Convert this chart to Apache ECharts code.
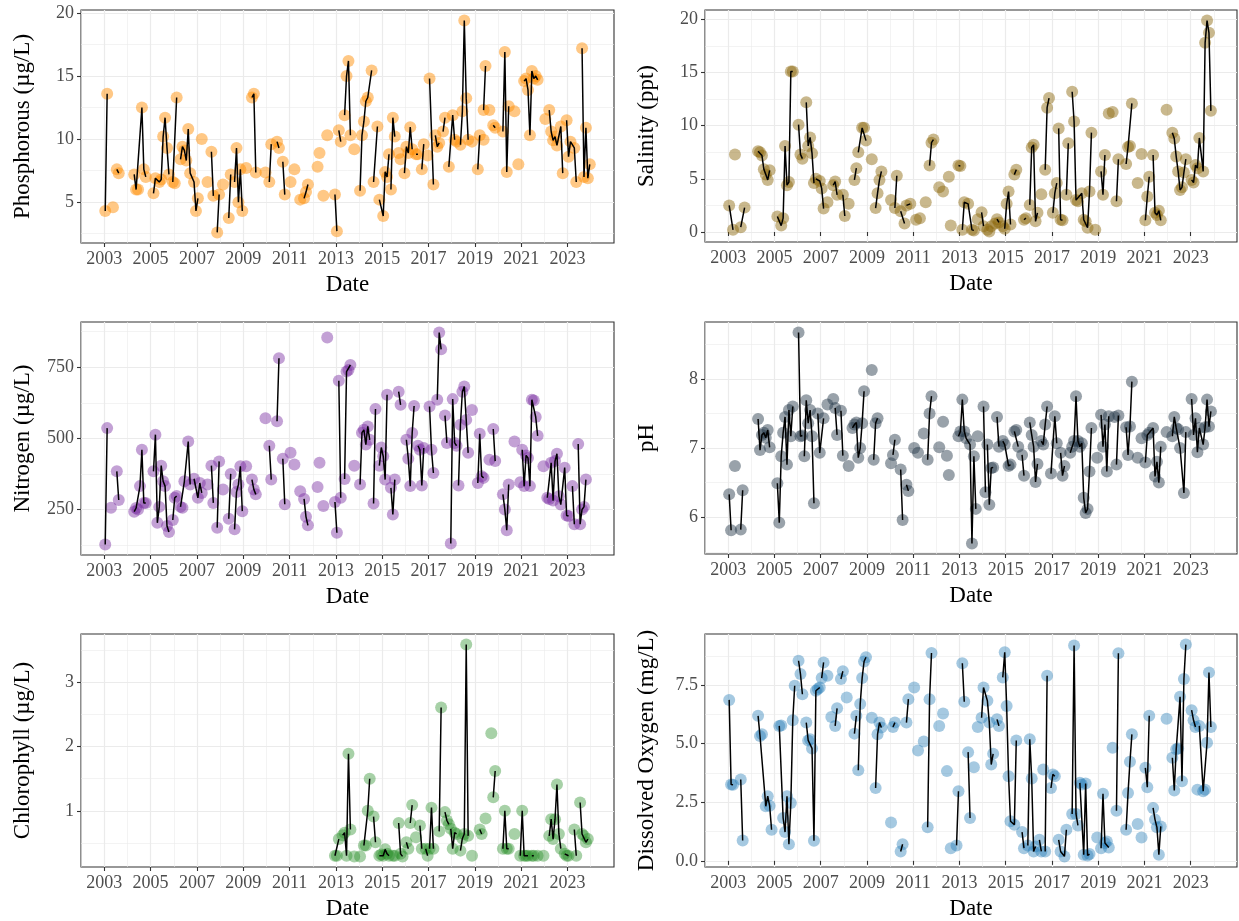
<!DOCTYPE html>
<html>
<head>
<meta charset="utf-8">
<script src="https://cdn.jsdelivr.net/npm/echarts@6/dist/echarts.min.js"></script>
<style>
  html, body { margin: 0; background: #fff; }
  #chart { width: 1239px; height: 921px; }
</style>
</head>
<body>
<div id="chart"></div>
<script>
// each panel: list of runs of consecutive samples [month, value]; lines only join points inside a run
var phosphorus = [
  [['2003-01',4.3],['2003-02',13.6]], [['2003-05',4.6]], [['2003-07',7.6],['2003-08',7.3]],
  [['2004-04',7.2],['2004-05',6.0],['2004-06',6.0],['2004-08',12.5],['2004-09',7.6],['2004-10',7.0]],
  [['2005-02',5.7],['2005-03',6.9],['2005-05',6.6],['2005-06',6.8],['2005-07',10.2],['2005-08',11.7],['2005-09',9.3],['2005-10',7.2]],
  [['2005-12',6.6],['2006-01',6.5],['2006-02',13.3]],
  [['2006-04',8.4],['2006-05',9.4],['2006-06',9.1],['2006-07',8.3],['2006-08',10.8],['2006-09',7.3],['2006-11',6.6],['2006-12',4.3],['2007-01',5.3]],
  [['2007-03',10.0]], [['2007-06',6.6]], [['2007-08',9.0],['2007-09',5.5]], [['2007-11',2.6],['2007-12',5.6]],
  [['2008-02',6.4]], [['2008-05',3.75],['2008-06',7.2]],
  [['2008-08',6.6],['2008-09',9.3],['2008-10',5.0],['2008-11',7.6],['2008-12',4.3]],
  [['2009-02',7.7]], [['2009-05',13.3],['2009-06',13.6],['2009-07',7.35]], [['2009-12',7.35]],
  [['2010-02',6.6],['2010-03',9.6]], [['2010-06',9.8],['2010-07',9.3]], [['2010-09',8.2],['2010-10',5.6]],
  [['2011-01',6.6]], [['2011-03',7.6]], [['2011-06',5.2]], [['2011-08',5.3],['2011-09',5.8],['2011-10',6.4]],
  [['2012-03',7.8]], [['2012-04',8.9]], [['2012-06',5.5]], [['2012-08',10.3]], [['2012-12',5.6],['2013-01',2.7]],
  [['2013-02',10.7],['2013-03',9.8]], [['2013-05',11.9],['2013-06',15.0],['2013-07',16.2],['2013-08',10.3]],
  [['2013-10',9.2]], [['2014-01',5.9],['2014-02',10.3],['2014-03',11.4],['2014-04',13.0],['2014-05',13.3],['2014-07',15.45]],
  [['2014-08',6.6],['2014-10',11.0]],
  [['2014-11',5.2],['2015-01',3.9],['2015-02',7.4],['2015-03',7.0],['2015-04',8.8]],
  [['2015-05',6.0],['2015-06',11.7],['2015-07',10.2]], [['2015-09',8.9]], [['2015-10',8.4]],
  [['2015-12',7.3],['2016-01',9.4],['2016-02',8.9],['2016-03',10.95],['2016-04',9.2]],
  [['2016-06',8.8],['2016-07',8.8]], [['2016-09',7.6],['2016-10',9.6]], [['2016-12',8.7]],
  [['2017-01',14.8],['2017-03',6.4]], [['2017-04',10.3],['2017-05',9.4],['2017-06',9.7]], [['2017-08',10.6],['2017-09',11.7]],
  [['2017-11',7.8],['2018-01',11.9],['2018-02',9.95]], [['2018-03',9.8]],
  [['2018-05',9.55],['2018-06',12.2],['2018-07',19.4],['2018-08',13.25],['2018-09',9.95]], [['2018-11',9.8]],
  [['2019-02',7.6],['2019-03',10.3]], [['2019-05',9.95]], [['2019-05',12.3],['2019-06',15.8]], [['2019-08',12.3]],
  [['2019-10',11.1],['2019-11',10.9]], [['2020-03',10.6],['2020-04',16.9],['2020-05',7.4],['2020-06',12.6]],
  [['2020-09',12.2]], [['2020-11',8.0]],
  [['2021-02',14.6],['2021-03',14.8],['2021-04',13.9],['2021-05',10.3],['2021-06',15.4],['2021-07',14.8],['2021-08',15.0],['2021-09',14.7]],
  [['2022-01',11.6]],
  [['2022-03',12.3],['2022-04',10.6],['2022-05',9.9],['2022-06',10.2],['2022-07',9.5],['2022-09',11.0],['2022-10',7.3]],
  [['2022-12',11.5],['2023-01',8.6],['2023-02',9.8],['2023-04',9.3],['2023-05',6.6]],
  [['2023-08',17.2],['2023-09',7.0],['2023-10',10.9],['2023-11',6.9],['2023-12',8.0]]
];

var salinity = [
  [['2003-01',2.5],['2003-03',0.2]], [['2003-04',7.3]], [['2003-07',0.45],['2003-09',2.3]],
  [['2004-04',7.6],['2004-05',7.5],['2004-06',7.2],['2004-07',5.9],['2004-08',5.4],['2004-09',4.9],['2004-10',5.8]],
  [['2005-02',1.45],['2005-04',0.6],['2005-05',1.3],['2005-06',8.1],['2005-07',4.4],['2005-08',4.7],['2005-09',15.1],['2005-10',15.1]],
  [['2006-01',10.1],['2006-02',7.3],['2006-03',6.9]],
  [['2006-05',12.2],['2006-06',8.1],['2006-07',8.9],['2006-08',7.4],['2006-09',4.6]],
  [['2006-10',5.0],['2006-12',4.8],['2007-01',4.1],['2007-02',2.2]], [['2007-04',2.8]],
  [['2007-07',4.4],['2007-08',4.75],['2007-09',3.5]], [['2007-12',3.5],['2008-01',1.5]], [['2008-03',2.65]],
  [['2008-06',4.9],['2008-07',6.0]], [['2008-08',7.5],['2008-10',9.8],['2008-11',9.8],['2008-12',8.6]],
  [['2009-03',6.85]], [['2009-05',2.25],['2009-06',3.65],['2009-07',4.9],['2009-08',5.7]],
  [['2010-01',3.0]], [['2010-03',2.25],['2010-04',5.3]], [['2010-06',1.95],['2010-08',0.8]], [['2010-09',2.5],['2010-11',2.65]],
  [['2011-02',1.15]], [['2011-04',1.3]], [['2011-07',2.8]], [['2011-09',6.25],['2011-10',8.4],['2011-11',8.7]],
  [['2012-02',4.2]], [['2012-04',3.8]], [['2012-07',5.2]], [['2012-08',0.6]], [['2012-12',6.25],['2013-01',6.2]],
  [['2013-02',0.2],['2013-03',2.8],['2013-05',2.65],['2013-07',0.2],['2013-08',0.15]],
  [['2013-10',1.2]], [['2013-12',1.85],['2014-01',0.55]], [['2014-03',0.2]], [['2014-04',0.05]], [['2014-05',0.55]],
  [['2014-07',0.8]], [['2014-08',1.2],['2014-09',0.9]], [['2014-11',0.55]],
  [['2014-12',0.3],['2015-01',2.65],['2015-02',3.8],['2015-03',0.7]], [['2015-05',5.4],['2015-06',5.85]],
  [['2015-10',1.15],['2015-11',1.3]], [['2016-01',2.55],['2016-02',7.95],['2016-03',8.2],['2016-04',1.0],['2016-05',1.8]],
  [['2016-07',3.55]], [['2016-09',5.85],['2016-10',11.7],['2016-11',12.6]], [['2017-01',1.8],['2017-02',3.65],['2017-03',4.6]],
  [['2017-04',9.75],['2017-05',1.15],['2017-06',1.1]], [['2017-08',3.5],['2017-09',8.35]],
  [['2017-11',13.2],['2017-12',10.4],['2018-01',3.0],['2018-02',2.9],['2018-04',3.65],['2018-05',1.15],['2018-06',1.0],['2018-07',0.4],['2018-08',3.8],['2018-09',9.35]],
  [['2018-11',0.2]], [['2019-02',5.7],['2019-03',3.5],['2019-04',7.25]], [['2019-06',11.15]], [['2019-08',11.3]],
  [['2019-10',2.9],['2019-11',6.85]], [['2020-03',6.4],['2020-04',8.0],['2020-05',8.1],['2020-06',12.1]],
  [['2020-09',4.6]], [['2020-11',7.35]], [['2021-01',1.1],['2021-02',3.35],['2021-03',5.2]],
  [['2021-05',7.25],['2021-06',1.8],['2021-07',1.6],['2021-08',2.0],['2021-09',1.1]], [['2021-12',11.5]],
  [['2022-03',9.35],['2022-04',8.8],['2022-05',7.1],['2022-06',5.7],['2022-07',3.95],['2022-08',4.2],['2022-09',5.6],['2022-10',6.85]],
  [['2023-01',4.9],['2023-02',4.65],['2023-03',6.3],['2023-04',6.0],['2023-05',8.85],['2023-07',5.7],['2023-08',17.8],['2023-09',19.9],['2023-10',18.75],['2023-11',11.4]]
];

var nitrogen = [
  [['2003-01',127],['2003-02',536]], [['2003-04',256]], [['2003-07',384],['2003-08',283]],
  [['2004-04',242],['2004-05',255],['2004-06',250],['2004-07',332],['2004-08',460],['2004-09',273],['2004-10',273]],
  [['2005-02',384],['2005-03',513],['2005-04',203],['2005-05',259],['2005-06',404],['2005-07',349],['2005-08',332],['2005-09',192],['2005-10',171]],
  [['2005-12',213],['2006-01',291],['2006-02',297]], [['2006-04',259],['2006-05',256],['2006-06',349],['2006-08',489],['2006-09',338]],
  [['2006-11',358],['2007-01',291],['2007-02',343],['2007-03',308]], [['2007-06',338]], [['2007-08',404],['2007-09',273]],
  [['2007-11',186],['2007-12',419]], [['2008-02',320]], [['2008-05',217],['2008-06',375]],
  [['2008-08',180],['2008-09',311],['2008-10',338],['2008-11',402],['2008-12',244]], [['2009-02',402]],
  [['2009-05',355],['2009-06',320],['2009-07',303]], [['2009-12',571]], [['2010-02',474],['2010-03',355]],
  [['2010-06',560],['2010-07',782]], [['2010-09',428],['2010-10',268]], [['2011-01',449]], [['2011-03',408]],
  [['2011-06',314]], [['2011-08',287],['2011-09',224],['2011-10',194]], [['2012-03',329]], [['2012-04',414]],
  [['2012-06',262]], [['2012-08',855]], [['2012-12',276],['2013-01',168]], [['2013-02',703],['2013-03',291]],
  [['2013-05',357],['2013-06',735],['2013-07',740],['2013-08',758]], [['2013-10',404]],
  [['2014-01',338],['2014-02',520],['2014-03',530],['2014-04',478],['2014-05',542],['2014-06',495]],
  [['2014-08',271],['2014-09',603]], [['2014-11',404],['2014-12',468],['2015-01',437],['2015-02',355],['2015-03',653]],
  [['2015-05',326],['2015-06',232],['2015-07',355]], [['2015-09',664],['2015-10',618]],
  [['2016-01',495],['2016-02',428],['2016-03',332],['2016-04',519],['2016-05',614]],
  [['2016-07',474],['2016-08',460],['2016-09',334],['2016-10',466]], [['2017-01',612],['2017-02',460],['2017-03',378]],
  [['2017-05',636],['2017-06',872],['2017-07',813]], [['2017-09',580],['2017-10',484]],
  [['2017-12',130],['2018-01',638],['2018-02',484],['2018-03',474]],
  [['2018-04',334],['2018-05',548],['2018-06',664],['2018-07',682],['2018-08',565],['2018-09',449]], [['2018-11',600]],
  [['2019-02',343],['2019-03',516],['2019-04',367],['2019-05',361]], [['2019-08',425]], [['2019-10',533],['2019-11',420]],
  [['2020-03',303],['2020-04',250],['2020-05',177],['2020-06',338]], [['2020-09',489]], [['2020-12',346]],
  [['2021-01',460],['2021-02',332],['2021-03',440],['2021-04',431],['2021-05',332],['2021-06',636],['2021-07',633],['2021-08',575],['2021-09',509]],
  [['2021-12',402]],
  [['2022-02',291],['2022-03',287],['2022-04',414],['2022-05',281],['2022-06',420],['2022-07',446],['2022-08',296],['2022-09',267],['2022-11',397],['2022-12',229],['2023-01',227]],
  [['2023-03',332],['2023-04',198]], [['2023-06',480],['2023-07',198],['2023-08',250],['2023-09',259],['2023-10',355]]
];

var ph = [
  [['2003-01',6.33],['2003-02',5.81]], [['2003-04',6.74]], [['2003-07',5.82],['2003-08',6.39]],
  [['2004-04',7.42],['2004-05',6.97],['2004-06',7.19],['2004-07',7.22],['2004-08',7.15],['2004-09',7.26],['2004-10',7.01]],
  [['2005-02',6.49],['2005-03',5.92],['2005-04',6.88],['2005-05',7.22],['2005-06',7.45],['2005-07',6.76],['2005-08',7.55],['2005-09',7.17],['2005-10',7.6]],
  [['2006-01',8.67],['2006-02',7.17],['2006-03',7.18]],
  [['2006-04',6.88],['2006-05',7.69],['2006-06',7.36],['2006-07',7.55],['2006-08',7.17],['2006-09',6.2]],
  [['2006-11',7.5],['2006-12',6.93],['2007-02',7.43]], [['2007-04',7.63]], [['2007-07',7.71]],
  [['2007-08',7.58],['2007-09',7.19]], [['2007-11',7.54],['2007-12',6.89]], [['2008-03',6.74]],
  [['2008-05',7.29],['2008-06',7.34],['2008-07',7.37],['2008-08',6.86],['2008-09',7.0],['2008-10',7.36],['2008-11',7.82]],
  [['2009-03',8.13]], [['2009-04',6.83],['2009-05',7.36],['2009-06',7.43]], [['2010-01',6.78]],
  [['2010-02',6.9],['2010-03',7.12]], [['2010-06',6.69],['2010-07',5.96]], [['2010-09',6.47],['2010-10',6.38]],
  [['2011-01',7.0]], [['2011-03',6.93]], [['2011-06',7.21]], [['2011-08',6.83],['2011-09',7.5],['2011-10',7.75]],
  [['2012-02',7.01]], [['2012-04',7.38]], [['2012-06',6.89]], [['2012-07',6.61]],
  [['2012-12',7.17],['2013-01',7.24],['2013-02',7.7],['2013-03',7.24],['2013-04',7.14],['2013-06',7.05],['2013-07',5.62],['2013-08',6.88],['2013-09',6.12]],
  [['2013-10',7.17]], [['2014-01',7.6],['2014-02',6.36]], [['2014-03',7.05],['2014-04',6.18],['2014-05',6.71],['2014-06',6.72]],
  [['2014-08',7.45],['2014-09',7.02]], [['2014-11',7.1],['2014-12',7.05],['2015-02',6.74],['2015-03',6.76]],
  [['2015-05',7.24],['2015-06',7.26],['2015-07',7.02]], [['2015-09',6.9],['2015-10',6.6]],
  [['2016-01',7.37],['2016-02',7.19],['2016-03',7.02],['2016-04',6.51],['2016-05',6.77]],
  [['2016-07',7.1],['2016-08',7.05],['2016-09',7.34],['2016-10',7.6]], [['2016-12',6.63],['2017-02',7.46],['2017-03',7.07]],
  [['2017-05',6.93],['2017-06',6.6],['2017-07',6.74]],
  [['2017-10',6.93],['2017-11',7.02],['2017-12',7.1],['2018-01',7.75],['2018-02',7.1],['2018-03',7.02],['2018-04',7.07],['2018-05',6.28],['2018-06',6.06],['2018-07',6.12],['2018-08',6.66],['2018-09',7.29]],
  [['2018-12',6.86]], [['2019-02',7.48],['2019-03',7.02],['2019-04',7.34],['2019-05',6.66],['2019-06',7.46]],
  [['2019-09',7.45]], [['2019-10',6.76],['2019-11',7.47]], [['2020-03',7.3],['2020-04',6.9],['2020-05',7.31],['2020-06',7.96]],
  [['2020-09',6.86]], [['2020-11',7.14]],
  [['2021-01',6.79],['2021-02',7.19],['2021-03',7.22],['2021-05',7.29],['2021-06',6.59],['2021-07',6.8],['2021-08',6.5],['2021-09',7.02]],
  [['2021-12',7.23]], [['2022-03',7.17],['2022-04',7.45],['2022-05',7.29],['2022-06',7.27],['2022-07',7.0],['2022-09',6.35],['2022-10',7.23]],
  [['2023-01',7.71],['2023-02',7.19],['2023-03',7.43],['2023-04',6.94],['2023-05',7.29],['2023-07',7.05],['2023-08',7.3],['2023-09',7.7],['2023-10',7.31],['2023-11',7.53]]
];

var chlorophyll = [
  [['2012-12',0.3],['2013-01',0.3],['2013-02',0.56]], [['2013-04',0.62],['2013-05',0.66],['2013-06',0.3],['2013-07',1.89],['2013-08',0.71]],
  [['2013-10',0.29]], [['2014-01',0.29]], [['2014-03',0.46],['2014-04',0.46],['2014-05',1.0],['2014-06',1.5]],
  [['2014-08',0.91],['2014-09',0.51]], [['2014-11',0.3],['2014-12',0.32],['2015-01',0.3],['2015-02',0.4],['2015-03',0.33],['2015-04',0.3]],
  [['2015-06',0.3]], [['2015-07',0.3]], [['2015-09',0.81],['2015-10',0.33],['2015-11',0.29]],
  [['2016-01',0.51],['2016-02',0.41]], [['2016-03',0.81],['2016-04',1.09]], [['2016-06',0.59]], [['2016-08',0.77],['2016-09',0.41]],
  [['2016-11',0.41],['2016-12',0.3]], [['2017-01',0.41],['2017-02',1.05],['2017-03',0.41]], [['2017-06',0.68],['2017-07',2.61]],
  [['2017-09',0.98],['2017-10',0.85],['2017-11',0.79]], [['2017-12',0.72],['2018-01',0.41],['2018-02',0.66],['2018-03',0.64]],
  [['2018-05',0.38],['2018-06',0.57],['2018-07',0.64],['2018-08',3.59],['2018-09',0.61]], [['2018-11',0.3]],
  [['2019-03',0.71],['2019-04',0.64]], [['2019-06',0.88]], [['2019-09',2.21]], [['2019-10',1.21],['2019-11',1.62]],
  [['2020-03',0.41],['2020-04',1.0],['2020-05',0.41],['2020-06',0.41]], [['2020-09',0.64]],
  [['2020-12',0.3],['2021-01',1.0],['2021-02',0.3],['2021-03',0.3],['2021-04',0.3]], [['2021-06',0.3],['2021-07',0.3]],
  [['2021-09',0.3]], [['2021-12',0.3]],
  [['2022-03',0.61],['2022-04',0.87],['2022-05',0.56],['2022-06',0.87],['2022-07',1.41],['2022-08',0.64],['2022-09',0.41]],
  [['2022-11',0.33],['2022-12',0.3],['2023-01',0.3]], [['2023-04',0.71],['2023-05',0.3]],
  [['2023-07',1.13],['2023-08',0.64],['2023-09',0.61],['2023-10',0.51],['2023-11',0.56]]
];

var oxygen = [
  [['2003-01',6.87],['2003-02',3.26],['2003-03',3.25]], [['2003-07',3.47],['2003-08',0.87]],
  [['2004-04',6.19],['2004-05',5.33],['2004-06',5.4],['2004-08',2.33],['2004-09',2.76],['2004-10',2.35],['2004-11',1.33]],
  [['2005-03',5.76],['2005-04',5.78],['2005-05',1.83],['2005-06',1.23],['2005-07',2.76],['2005-08',0.71],['2005-09',2.47],['2005-10',6.0],['2005-11',7.47]],
  [['2006-01',8.54],['2006-02',7.97],['2006-03',7.11]],
  [['2006-05',5.9],['2006-06',5.14],['2006-07',5.19],['2006-08',4.8],['2006-09',0.86],['2006-10',7.26],['2006-11',7.33],['2006-12',7.4]],
  [['2007-01',7.8],['2007-02',8.47]], [['2007-04',7.9]], [['2007-06',6.14]], [['2007-08',5.76],['2007-09',6.51]],
  [['2007-11',7.76],['2007-12',8.09]], [['2008-02',6.97]], [['2008-06',5.43],['2008-07',6.19]],
  [['2008-08',3.87],['2008-09',6.69],['2008-10',7.8],['2008-11',8.51],['2008-12',8.69]], [['2009-03',6.11]],
  [['2009-05',3.11],['2009-06',5.4],['2009-07',5.9],['2009-08',5.69]], [['2010-01',1.64]], [['2010-02',5.71],['2010-03',5.9]],
  [['2010-06',0.4],['2010-07',0.71]], [['2010-09',5.9],['2010-10',6.9]], [['2011-01',7.4]], [['2011-03',4.71]], [['2011-06',5.09]],
  [['2011-08',1.43],['2011-09',6.9],['2011-10',8.87]], [['2012-02',5.76]], [['2012-04',6.29]], [['2012-06',3.83]], [['2012-08',0.54]],
  [['2012-11',0.66],['2012-12',2.97]], [['2013-02',8.43],['2013-03',6.79]], [['2013-05',4.64],['2013-06',1.83]], [['2013-08',4.0]],
  [['2013-10',5.71]], [['2013-12',6.11],['2014-01',7.4],['2014-03',6.83],['2014-04',5.9],['2014-05',4.11],['2014-06',4.57]],
  [['2014-08',6.04],['2014-09',5.76]], [['2014-11',7.83],['2014-12',8.9],['2015-01',6.61],['2015-02',3.61],['2015-03',1.69],['2015-05',1.54],['2015-06',5.14]],
  [['2015-09',1.23],['2015-10',0.54]], [['2015-12',0.66],['2016-01',5.19],['2016-02',3.51],['2016-03',0.4],['2016-04',0.61]],
  [['2016-06',0.9],['2016-07',0.4]], [['2016-08',3.9]], [['2016-09',0.4],['2016-10',7.9]],
  [['2016-12',3.11],['2017-01',3.69],['2017-02',3.61]], [['2017-04',0.9],['2017-05',0.4],['2017-07',0.19],['2017-08',1.33]],
  [['2017-11',2.0],['2017-12',9.19],['2018-01',2.0],['2018-02',1.51]],
  [['2018-03',3.33],['2018-04',3.26],['2018-05',0.26],['2018-06',3.3],['2018-07',0.23],['2018-08',0.29]], [['2018-12',1.0]],
  [['2019-02',0.54],['2019-03',2.86],['2019-04',0.76],['2019-05',0.83],['2019-06',0.57]], [['2019-08',4.83]],
  [['2019-10',2.14],['2019-11',8.86]], [['2020-03',1.33],['2020-04',2.9],['2020-05',4.23],['2020-06',5.4]],
  [['2020-09',1.57]], [['2020-11',1.0]], [['2021-01',3.97],['2021-02',3.14],['2021-03',6.19]],
  [['2021-05',2.26],['2021-06',1.76],['2021-07',1.43],['2021-08',0.26],['2021-09',1.47]], [['2021-12',6.07]],
  [['2022-03',4.4],['2022-04',3.0],['2022-05',4.76],['2022-06',4.8],['2022-07',7.0],['2022-08',3.4],['2022-09',7.76],['2022-10',9.23]],
  [['2023-01',6.43],['2023-02',6.0],['2023-03',5.71]], [['2023-04',3.04]],
  [['2023-05',5.76],['2023-07',2.97],['2023-08',3.04],['2023-09',5.04],['2023-10',8.04],['2023-11',5.71]]
];

var yearTicks = [2003, 2005, 2007, 2009, 2011, 2013, 2015, 2017, 2019, 2021, 2023];
var yearMinor = [2002, 2004, 2006, 2008, 2010, 2012, 2014, 2016, 2018, 2020, 2022, 2024];

var panels = [
  { runs: phosphorus, name: 'Phosphorous (µg/L)', color: 'rgba(255,140,0,0.6)', major: [5, 10, 15, 20], minor: [2.5, 7.5, 12.5, 17.5], digits: 0 },
  { runs: salinity, name: 'Salinity (ppt)', color: 'rgba(139,101,8,0.58)', major: [0, 5, 10, 15, 20], minor: [2.5, 7.5, 12.5, 17.5], digits: 0 },
  { runs: nitrogen, name: 'Nitrogen (µg/L)', color: 'rgba(118,42,160,0.55)', major: [250, 500, 750], minor: [125, 375, 625, 875], digits: 0 },
  { runs: ph, name: 'pH', color: 'rgba(35,55,72,0.58)', major: [6, 7, 8], minor: [5.5, 6.5, 7.5, 8.5], digits: 0 },
  { runs: chlorophyll, name: 'Chlorophyll (µg/L)', color: 'rgba(34,139,34,0.5)', major: [1, 2, 3], minor: [0.5, 1.5, 2.5, 3.5], digits: 0 },
  { runs: oxygen, name: 'Dissolved Oxygen (mg/L)', color: 'rgba(31,120,180,0.5)', major: [0, 2.5, 5, 7.5], minor: [1.25, 3.75, 6.25, 8.75], digits: 1 }
];

var boxes = [
  { left: 81, top: 10, width: 533, height: 233 },
  { left: 705, top: 10, width: 532, height: 232 },
  { left: 81, top: 322, width: 533, height: 233 },
  { left: 705, top: 322, width: 532, height: 232 },
  { left: 81, top: 634, width: 533, height: 233 },
  { left: 705, top: 634, width: 532, height: 233 }
];

function toYear(m) {
  var p = m.split('-');
  return +p[0] + (+p[1] - 0.5) / 12;
}

var font = 'Liberation Serif';

// shared date range, padded 5% like ggplot
var allX = [];
panels.forEach(function (p) {
  p.runs.forEach(function (r) { r.forEach(function (d) { allX.push(toYear(d[0])); }); });
});
var xLo = Math.min.apply(null, allX), xHi = Math.max.apply(null, allX);
var xPad = (xHi - xLo) * 0.05;

var option = { animation: false, grid: [], xAxis: [], yAxis: [], series: [] };

panels.forEach(function (p, i) {
  var pts = [], line = [];
  p.runs.forEach(function (r) {
    r.forEach(function (d) {
      var x = toYear(d[0]);
      pts.push([x, d[1]]);
      line.push([x, d[1]]);
    });
    line.push([toYear(r[r.length - 1][0]), null]);
  });
  var ys = pts.map(function (d) { return d[1]; });
  var yLo = Math.min.apply(null, ys), yHi = Math.max.apply(null, ys);
  var yPad = (yHi - yLo) * 0.05;
  var b = boxes[i];

  option.grid.push({
    left: b.left, top: b.top, width: b.width, height: b.height,
    show: true, borderColor: '#333333', borderWidth: 1.1, backgroundColor: 'transparent',
    outerBoundsMode: 'none'
  });

  option.xAxis.push({
    gridIndex: i, type: 'value', min: xLo - xPad, max: xHi + xPad,
    name: 'Date', nameLocation: 'middle', nameGap: 30,
    nameTextStyle: { fontFamily: font, fontSize: 23, color: '#000' },
    axisLine: { show: false },
    axisTick: { show: true, length: 4, customValues: yearTicks, lineStyle: { color: '#333333', width: 1.1 } },
    axisLabel: { customValues: yearTicks, margin: 7, fontFamily: font, fontSize: 18, color: '#4D4D4D',
      formatter: function (v) { return String(Math.round(v)); } },
    splitLine: { show: true, lineStyle: { color: '#EBEBEB', width: 1.2 } }
  });
  option.xAxis.push({
    gridIndex: i, type: 'value', min: xLo - xPad, max: xHi + xPad, position: 'top',
    axisLine: { show: false },
    axisTick: { show: false, customValues: yearMinor },
    axisLabel: { show: false, customValues: yearMinor },
    splitLine: { show: true, lineStyle: { color: '#EBEBEB', width: 0.6 } }
  });

  option.yAxis.push({
    gridIndex: i, type: 'value', min: yLo - yPad, max: yHi + yPad,
    name: p.name, nameLocation: 'middle', nameGap: 47, nameRotate: 90,
    nameTextStyle: { fontFamily: font, fontSize: 23, color: '#000' },
    axisLine: { show: false },
    axisTick: { show: true, length: 4, customValues: p.major, lineStyle: { color: '#333333', width: 1.1 } },
    axisLabel: { customValues: p.major, margin: 7, fontFamily: font, fontSize: 18, color: '#4D4D4D',
      formatter: function (v) { return v.toFixed(p.digits); } },
    splitLine: { show: true, lineStyle: { color: '#EBEBEB', width: 1.2 } }
  });
  option.yAxis.push({
    gridIndex: i, type: 'value', min: yLo - yPad, max: yHi + yPad, position: 'right',
    axisLine: { show: false },
    axisTick: { show: false, customValues: p.minor },
    axisLabel: { show: false, customValues: p.minor },
    splitLine: { show: true, lineStyle: { color: '#EBEBEB', width: 0.6 } }
  });

  option.series.push({
    type: 'scatter', xAxisIndex: i * 2, yAxisIndex: i * 2, data: pts,
    symbolSize: 12, itemStyle: { color: p.color }, z: 2, silent: true
  });
  option.series.push({
    type: 'line', xAxisIndex: i * 2, yAxisIndex: i * 2, data: line,
    showSymbol: false, symbol: 'none', connectNulls: false,
    lineStyle: { color: '#000', width: 1.5 }, z: 3, silent: true
  });
});

var chart = echarts.init(document.getElementById('chart'));
chart.setOption(option);
</script>
</body>
</html>
